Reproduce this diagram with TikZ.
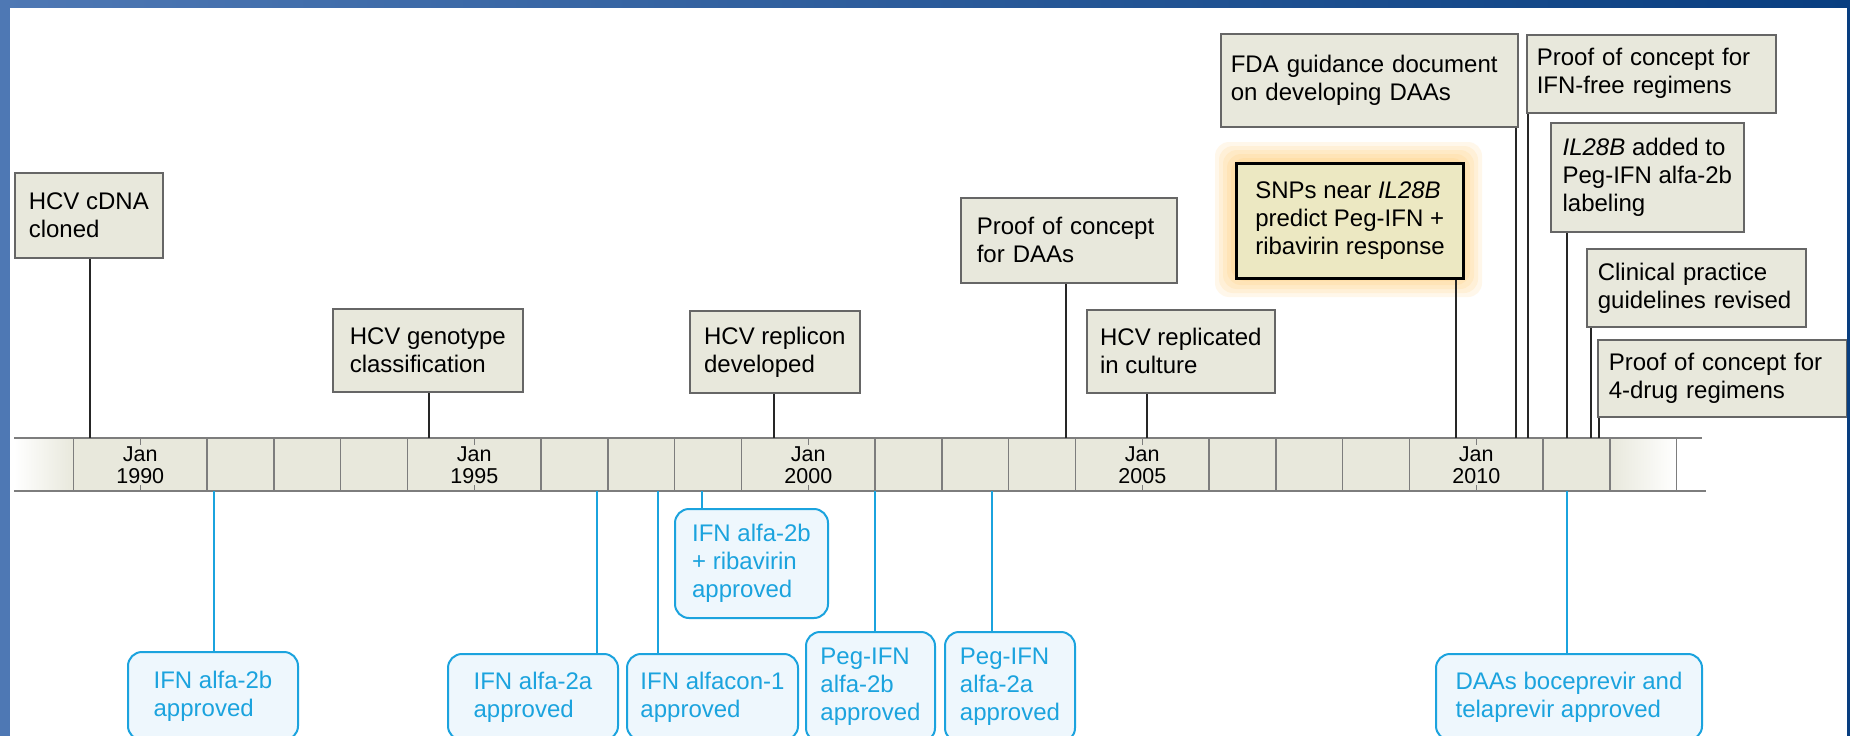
\documentclass[tikz,border=0pt]{standalone}
\usepackage{fontspec}
\setmainfont{Liberation Sans}
\usepackage{tikz}
\usetikzlibrary{positioning}

\definecolor{boxfill}{RGB}{232,232,220}
\definecolor{snpfill}{RGB}{236,232,194}
\definecolor{glow}{RGB}{255,210,130}
\definecolor{cyanline}{RGB}{27,163,222}
\definecolor{cyanfill}{RGB}{238,247,253}
\definecolor{axisgray}{RGB}{125,125,125}
\definecolor{frameleft}{RGB}{78,120,180}
\definecolor{frameright}{RGB}{8,62,128}

\begin{document}
\begin{tikzpicture}[
    x=1bp, y=-1bp,
    font=\fontsize{24bp}{28bp}\selectfont,
    event/.style={
        draw=black!60,
        line width=1.6bp,
        fill=boxfill,
        anchor=north west,
        align=left,
        inner sep=0pt
    },
    keyevent/.style={
        event,
        draw=black,
        line width=3bp,
        fill=snpfill
    },
    approval/.style={
        draw=cyanline,
        line width=2bp,
        fill=cyanfill,
        text=cyanline,
        rounded corners=14bp,
        anchor=north west,
        align=left,
        inner sep=0pt
    },
    link/.style={line width=2bp, black!85},
    bluelink/.style={line width=2bp, cyanline},
    divider/.style={line width=1.3bp, axisgray},
    axisline/.style={line width=2bp, axisgray},
    yearlabel/.style={font=\fontsize{21.5bp}{22.5bp}\selectfont, align=center, inner sep=0pt}
]

% Sfondo
\clip (0,0) rectangle (1850,736);
\fill[white] (0,0) rectangle (1850,736);

% Asse temporale
\node[inner sep=0pt, minimum width=1692bp, minimum height=53bp, anchor=north west] (axis) at (14,438) {};
\fill[boxfill] (73.5,438) rectangle (1609.9,491);
\shade[left color=white, right color=boxfill] (axis.north west) rectangle (73.5,491);
\shade[left color=boxfill, right color=white] (1609.9,438) rectangle (1676.7,491);
\foreach \k in {0,2,3,4,5,7,8,9,10,12,13,14,15,17,18,19,20,22,23,24}
    \draw[divider] (73.5+66.8*\k,438) -- (73.5+66.8*\k,491);
\foreach \k/\yr in {1/1990,6/1995,11/2000,16/2005,21/2010} {
    \draw[divider] (73.5+66.8*\k,438) -- ++(0,7);
    \draw[divider] (73.5+66.8*\k,491) -- ++(0,-6);
    \node[yearlabel] (y\yr) at (73.5+66.8*\k,465.4) {Jan\\\yr};
}
\draw[axisline] (axis.north west) -- ([xshift=-4bp]axis.north east);
\draw[axisline] (axis.south west) -- (axis.south east);

% Alone del riquadro evidenziato
\foreach \g/\o in {20/0.16,16/0.18,12/0.2,8/0.22,4/0.25}
    \fill[glow, opacity=\o, rounded corners=14bp] (1235-\g,162-\g) rectangle (1462+\g,277+\g);

% Eventi sopra l'asse
\node[event, minimum width=148bp, minimum height=85bp] (cdna) at (14,172) {HCV cDNA\\cloned};
\node[event, minimum width=190bp, minimum height=83bp] (geno) at (332,308) {HCV genotype\\classification};
\node[event, minimum width=170bp, minimum height=82bp] (repl) at (689,310) {HCV replicon\\developed};
\node[event, inner xsep=16bp, text width=184bp, minimum height=85bp] (daas) at (960,197) {Proof of concept\\for DAAs};
\node[event, minimum width=188bp, minimum height=83bp] (cult) at (1086,309) {HCV replicated\\in culture};
\node[keyevent, minimum width=227bp, minimum height=115bp] (snps) at (1235,162) {SNPs near \textit{IL28B}\\predict Peg-IFN +\\ribavirin response};
\node[event, inner xsep=10bp, text width=277bp, minimum height=93bp] (fda) at (1220,33) {FDA guidance document\\on developing DAAs};
\node[event, inner xsep=10bp, text width=229bp, minimum height=78bp] (free) at (1526,34) {Proof of concept for\\IFN-free regimens};
\node[event, minimum width=193bp, minimum height=109bp] (il28) at (1550,122) {\textit{IL28B} added to\\Peg-IFN alfa-2b\\labeling};
\node[event, inner xsep=11bp, text width=197bp, minimum height=78bp] (clin) at (1586,248) {Clinical practice\\guidelines revised};
\node[event, inner xsep=11bp, text width=227bp, minimum height=77bp] (four) at (1597,339) {Proof of concept for\\4-drug regimens};

% Approvazioni sotto l'asse
\node[approval, minimum width=170bp, minimum height=88bp] (ifnb) at (127,651) {IFN alfa-2b\\approved};
\node[approval, minimum width=170bp, minimum height=86bp] (ifna) at (447,653) {IFN alfa-2a\\approved};
\node[approval, minimum width=171bp, minimum height=86bp] (alfc) at (626,653) {IFN alfacon-1\\approved};
\node[approval, minimum width=153bp, minimum height=109bp] (ribv) at (674,508) {IFN alfa-2b\\+ ribavirin\\approved};
\node[approval, minimum width=129bp, minimum height=110bp] (pegb) at (805,631) {Peg-IFN\\alfa-2b\\approved};
\node[approval, minimum width=130bp, minimum height=110bp] (pega) at (944,631) {Peg-IFN\\alfa-2a\\approved};
\node[approval, minimum width=266bp, minimum height=86bp] (daab) at (1435,653) {DAAs boceprevir and\\telaprevir approved};

% Collegamenti
\foreach \n/\x in {cdna/90,geno/428.5,repl/773.5,daas/1065.6,cult/1147,snps/1456,fda/1516,free/1527.5,il28/1567,clin/1591,four/1599} {
    \coordinate (\n-t) at (\x,438);
    \draw[link] (\n-t) -- (\n-t |- \n.south);
}
\foreach \n/\x in {ifnb/213.5,ifna/597,alfc/658,ribv/702,pegb/875,pega/991.6,daab/1567} {
    \coordinate (\n-t) at (\x,491);
    \draw[bluelink] (\n-t) -- (\n-t |- \n.north);
}

% Cornice
\shade[left color=frameleft, right color=frameright] (0,0) rectangle (1850,7.5);
\fill[frameleft] (0,0) rectangle (10,736);
\fill[frameright] (1847,0) rectangle (1850,736);

\end{tikzpicture}
\end{document}
